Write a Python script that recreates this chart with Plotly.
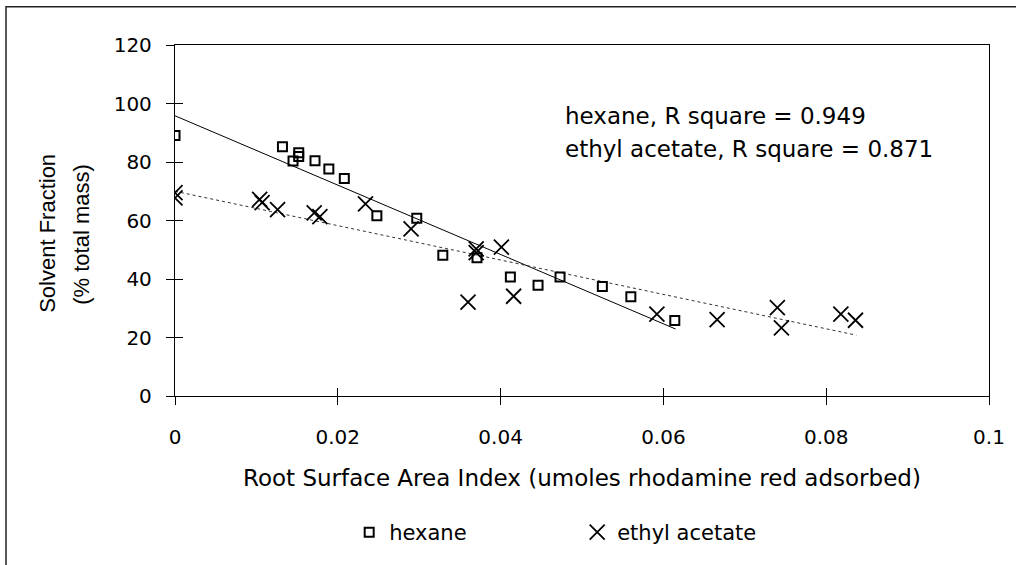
import plotly.graph_objects as go

# Hexane fraction vs root surface area index
hexane_x = [0.0, 0.0132, 0.0145, 0.0152, 0.0152, 0.0172, 0.0189, 0.0208, 0.0248,
            0.0297, 0.0329, 0.0371, 0.0412, 0.0446, 0.0473, 0.0525, 0.0560, 0.0614]
hexane_y = [89.1, 85.2, 80.3, 83.2, 81.9, 80.4, 77.6, 74.4, 61.6,
            60.8, 48.1, 47.3, 40.7, 37.9, 40.7, 37.4, 33.9, 25.8]

# Ethyl acetate fraction vs root surface area index
ethyl_x = [0.0, 0.0, 0.0104, 0.0107, 0.0126, 0.0171, 0.0178, 0.0234, 0.0290, 0.0370,
           0.0370, 0.0401, 0.0360, 0.0416, 0.0592, 0.0666, 0.0740, 0.0745, 0.0818, 0.0836]
ethyl_y = [69.5, 67.7, 67.2, 66.1, 63.7, 62.6, 61.3, 65.7, 57.1, 50.3,
           49.0, 50.9, 32.1, 34.1, 28.0, 26.1, 30.2, 23.3, 28.0, 25.9]

# Linear trend lines (end points)
hexane_fit_x = [0.0, 0.0615]
hexane_fit_y = [95.8, 22.9]
ethyl_fit_x = [0.0, 0.0837]
ethyl_fit_y = [70.0, 20.8]

x_ticks = [0, 0.02, 0.04, 0.06, 0.08, 0.1]
x_tick_text = ["0", "0.02", "0.04", "0.06", "0.08", "0.1"]
y_ticks = [0, 20, 40, 60, 80, 100, 120]

r_square_lines = ["hexane, R square = 0.949", "ethyl acetate, R square = 0.871"]

WIDE = "DejaVu Sans, Arial, sans-serif"
NARROW = "Liberation Sans, Arial, sans-serif"

fig = go.Figure()

fig.add_trace(go.Scatter(
    x=hexane_fit_x, y=hexane_fit_y, mode="lines",
    line=dict(color="black", width=1), showlegend=False, hoverinfo="skip"))
fig.add_trace(go.Scatter(
    x=ethyl_fit_x, y=ethyl_fit_y, mode="lines",
    line=dict(color="#333333", width=1, dash="dot"), showlegend=False, hoverinfo="skip"))

fig.add_trace(go.Scatter(
    x=hexane_x, y=hexane_y, mode="markers", name="hexane",
    marker=dict(symbol="square-open", size=9, color="black",
                line=dict(color="black", width=2))))
fig.add_trace(go.Scatter(
    x=ethyl_x, y=ethyl_y, mode="markers", name="ethyl acetate",
    marker=dict(symbol="x-thin-open", size=15, color="black",
                line=dict(color="black", width=1.8))))

# empty trace so the inside-tick overlay axes are drawn
fig.add_trace(go.Scatter(x=[None], y=[None], xaxis="x2", yaxis="y2",
                         showlegend=False, hoverinfo="skip"))

axis_common = dict(showgrid=False, zeroline=False, tickcolor="black", tickwidth=1.3)

fig.update_layout(
    width=1016, height=565,
    margin=dict(l=175, r=27, t=45, b=163),
    paper_bgcolor="white", plot_bgcolor="white",
    xaxis=dict(range=[0, 0.1], tickmode="array", tickvals=x_ticks, ticktext=x_tick_text,
               ticks="outside", ticklen=8, showline=True, linecolor="black", linewidth=1.3,
               mirror=True, ticklabelstandoff=15,
               tickfont=dict(family=WIDE, size=20, color="black"), **axis_common),
    yaxis=dict(range=[0, 120], tickmode="array", tickvals=y_ticks,
               ticks="outside", ticklen=8, showline=True, linecolor="black", linewidth=1.3,
               mirror=True, ticklabelstandoff=10,
               tickfont=dict(family=WIDE, size=20, color="black"), **axis_common),
    xaxis2=dict(range=[0, 0.1], overlaying="x", anchor="y", side="bottom",
                tickmode="array", tickvals=x_ticks, ticks="inside", ticklen=8,
                showticklabels=False, showline=False, **axis_common),
    yaxis2=dict(range=[0, 120], overlaying="y", anchor="x", side="left",
                tickmode="array", tickvals=y_ticks, ticks="inside", ticklen=8,
                showticklabels=False, showline=False, **axis_common),
    legend=dict(orientation="h", x=0.214, y=-0.389, xanchor="left", yanchor="middle",
                entrywidth=183, font=dict(family=WIDE, size=21, color="black"),
                bgcolor="rgba(0,0,0,0)"),
    shapes=[dict(type="rect", xref="paper", yref="paper",
                 x0=-0.2076, x1=1.1, y0=-0.6, y1=1.1092,
                 line=dict(color="#222222", width=1.5))],
    annotations=[
        dict(text=r_square_lines[0], xref="paper", yref="paper", x=0.4767, y=0.797,
             xanchor="left", yanchor="middle", showarrow=False,
             font=dict(family=WIDE, size=23, color="black")),
        dict(text=r_square_lines[1], xref="paper", yref="paper", x=0.4767, y=0.703,
             xanchor="left", yanchor="middle", showarrow=False,
             font=dict(family=WIDE, size=23, color="black")),
        dict(text="Root Surface Area Index (umoles rhodamine red adsorbed)",
             xref="paper", yref="paper", x=0.5, y=-0.2325,
             xanchor="center", yanchor="middle", showarrow=False,
             font=dict(family=WIDE, size=23, color="black")),
        dict(text="Solvent Fraction", xref="paper", yref="paper", x=-0.156, y=0.462,
             xanchor="center", yanchor="middle", textangle=-90, showarrow=False,
             font=dict(family=NARROW, size=22, color="black")),
        dict(text="(% total mass)", xref="paper", yref="paper", x=-0.1143, y=0.462,
             xanchor="center", yanchor="middle", textangle=-90, showarrow=False,
             font=dict(family=NARROW, size=22, color="black")),
    ],
)

fig.write_html("out.html")
